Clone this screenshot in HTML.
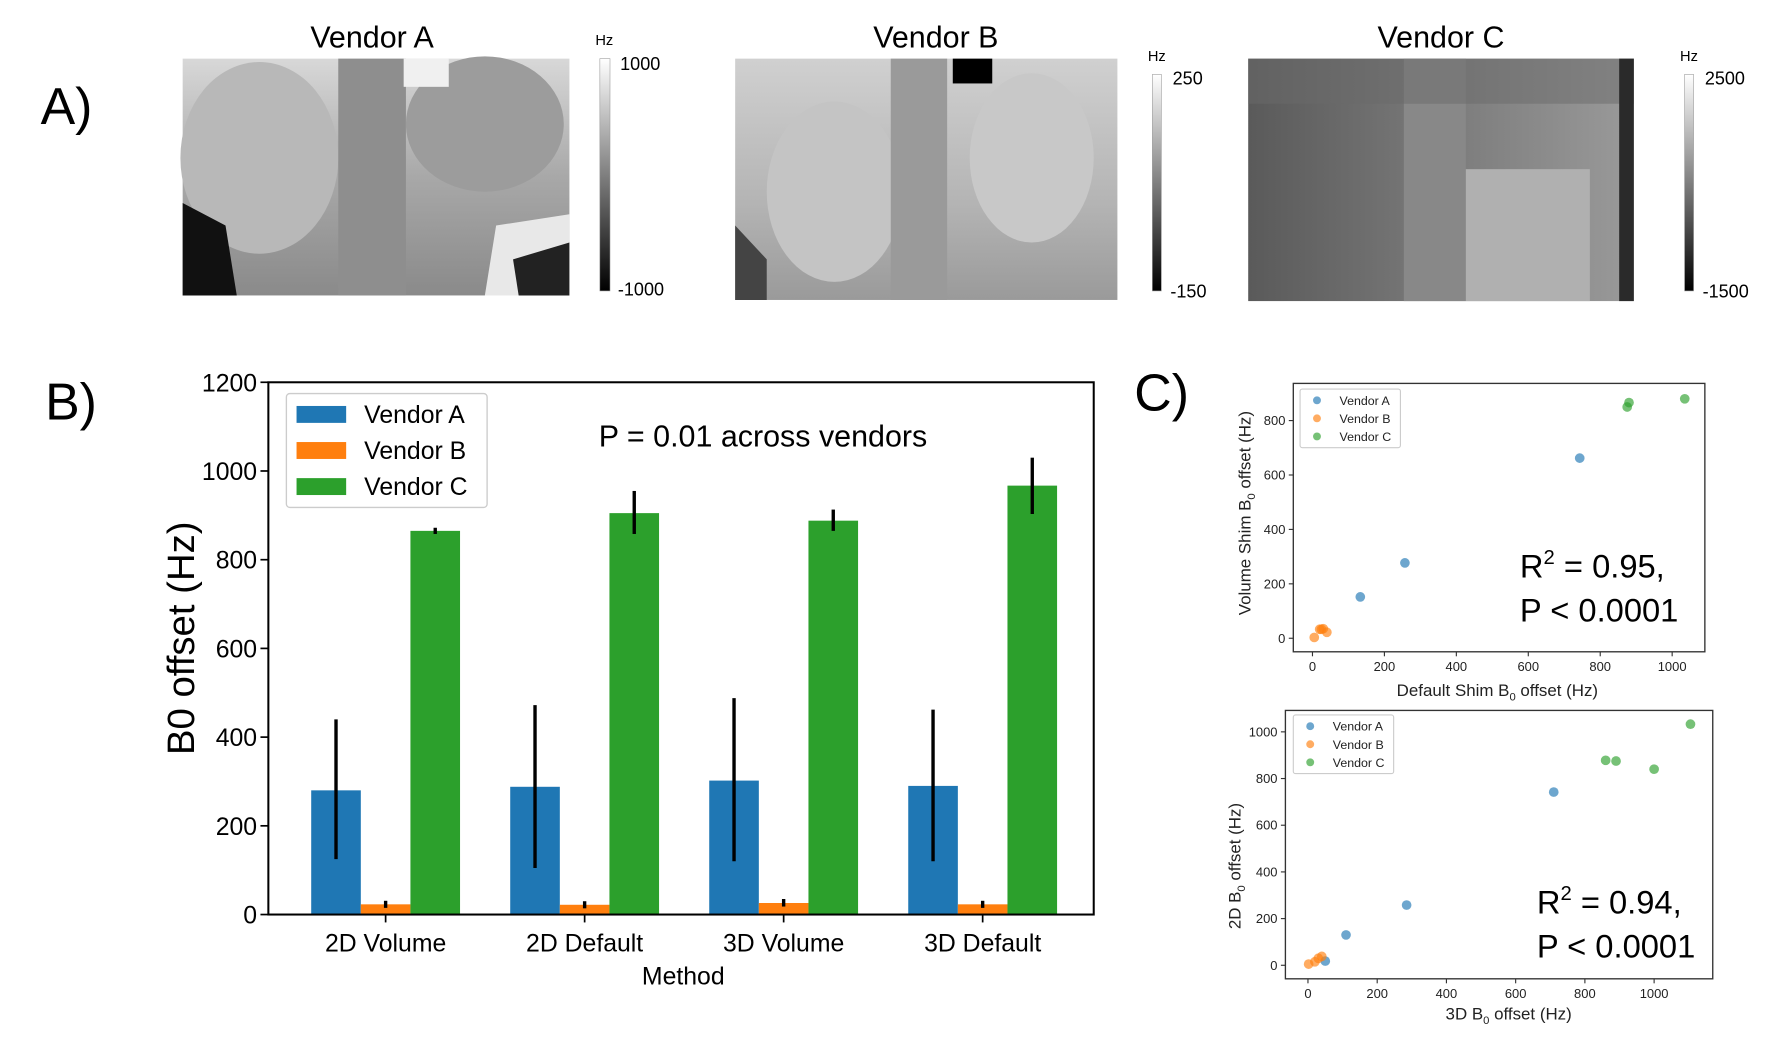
<!DOCTYPE html>
<html><head><meta charset="utf-8">
<style>
html,body{margin:0;padding:0;background:#fff;}
svg{display:block;font-family:"Liberation Sans","DejaVu Sans",sans-serif;}
</style></head>
<body>
<svg id="root" width="1768" height="1037" viewBox="0 0 1568 919.6" preserveAspectRatio="none" xmlns="http://www.w3.org/2000/svg">
<defs>
  <linearGradient id="cbar" x1="0" y1="0" x2="0" y2="1"><stop offset="0" stop-color="#fff"/><stop offset="1" stop-color="#000"/></linearGradient>
  <linearGradient id="imgA" x1="0" y1="0" x2="0" y2="1"><stop offset="0" stop-color="#d8d8d8"/><stop offset="0.5" stop-color="#a8a8a8"/><stop offset="1" stop-color="#8a8a8a"/></linearGradient>
  <linearGradient id="imgB" x1="0" y1="0" x2="0" y2="1"><stop offset="0" stop-color="#d0d0d0"/><stop offset="0.6" stop-color="#b4b4b4"/><stop offset="1" stop-color="#9a9a9a"/></linearGradient>
  <linearGradient id="imgC" x1="0" y1="0" x2="1" y2="0"><stop offset="0" stop-color="#5a5a5a"/><stop offset="0.5" stop-color="#7a7a7a"/><stop offset="1" stop-color="#9a9a9a"/></linearGradient>
</defs>

<!-- Panel A -->
<g>
  <text x="36" y="110" font-size="46">A)</text>
  <text x="330" y="42" font-size="27" text-anchor="middle">Vendor A</text>
  <g>
    <rect x="162" y="52" width="343" height="210" fill="url(#imgA)"/>
    <ellipse cx="230" cy="140" rx="70" ry="85" fill="#b8b8b8"/>
    <ellipse cx="430" cy="110" rx="70" ry="60" fill="#9c9c9c"/>
    <rect x="300" y="52" width="60" height="210" fill="#8e8e8e"/>
    <rect x="358" y="52" width="40" height="25" fill="#f0f0f0"/>
    <path d="M162 180 L200 200 L210 262 L162 262Z" fill="#111"/>
    <path d="M440 200 L505 190 L505 262 L430 262Z" fill="#e8e8e8"/>
    <path d="M455 230 L505 215 L505 262 L460 262Z" fill="#222"/>
  </g>
  <text x="528" y="40" font-size="13">Hz</text>
  <rect x="532" y="52" width="9" height="206" fill="url(#cbar)" stroke="#999" stroke-width="0.5"/>
  <text x="550" y="62" font-size="16">1000</text>
  <text x="548" y="262" font-size="16">-1000</text>

  <text x="830" y="42" font-size="27" text-anchor="middle">Vendor B</text>
  <g>
    <rect x="652" y="52" width="339" height="214" fill="url(#imgB)"/>
    <ellipse cx="740" cy="170" rx="60" ry="80" fill="#c4c4c4"/>
    <ellipse cx="915" cy="140" rx="55" ry="75" fill="#c8c8c8"/>
    <rect x="790" y="52" width="50" height="214" fill="#9a9a9a"/>
    <rect x="845" y="52" width="35" height="22" fill="#000"/>
    <path d="M652 200 L680 230 L680 266 L652 266Z" fill="#444"/>
  </g>
  <text x="1018" y="54" font-size="13">Hz</text>
  <rect x="1022" y="66" width="8" height="192" fill="url(#cbar)" stroke="#999" stroke-width="0.5"/>
  <text x="1040" y="75" font-size="16">250</text>
  <text x="1038" y="264" font-size="16">-150</text>

  <text x="1278" y="42" font-size="27" text-anchor="middle">Vendor C</text>
  <g>
    <rect x="1107" y="52" width="342" height="215" fill="url(#imgC)"/>
    <rect x="1245" y="52" width="55" height="215" fill="#888"/>
    <rect x="1300" y="150" width="110" height="117" fill="#b0b0b0"/>
    <rect x="1107" y="52" width="342" height="40" fill="#6a6a6a" opacity="0.5"/>
    <rect x="1436" y="52" width="13" height="215" fill="#2a2a2a"/>
  </g>
  <text x="1490" y="54" font-size="13">Hz</text>
  <rect x="1494" y="66" width="8" height="192" fill="url(#cbar)" stroke="#999" stroke-width="0.5"/>
  <text x="1512" y="75" font-size="16">2500</text>
  <text x="1510" y="264" font-size="16">-1500</text>
</g>

<!-- Panel B -->
<g id="panelB">
  <text x="40" y="372" font-size="46">B)</text>
</g>
<!-- Panel C -->
<g id="panelC">
  <text x="1006" y="364" font-size="46">C)</text>
</g>
</svg>
<script>
const NS = "http://www.w3.org/2000/svg";
const categories = ["2D Volume", "2D Default", "3D Volume", "3D Default"];
const seriesNames = ["Vendor A", "Vendor B", "Vendor C"];
const valuesA = [280, 288, 302, 290];
const valuesB = [23, 22, 26, 23];
const valuesC = [865, 905, 888, 967];
const errLowA = [125, 105, 120, 120];
const errHighA = [440, 472, 488, 462];
const errLowB = [15, 14, 18, 15];
const errHighB = [31, 30, 35, 31];
const errLowC = [858, 858, 865, 903];
const errHighC = [872, 955, 913, 1030];
const yTicksB = [0, 200, 400, 600, 800, 1000, 1200];

const sc1VendorAX = [133, 257, 743];
const sc1VendorAY = [152, 277, 662];
const sc1VendorBX = [5, 20, 30, 40, 25];
const sc1VendorBY = [3, 33, 35, 22, 33];
const sc1VendorCX = [875, 880, 1035];
const sc1VendorCY = [850, 866, 880];
const sc1XTicks = [0, 200, 400, 600, 800, 1000];
const sc1YTicks = [0, 200, 400, 600, 800];

const sc2VendorAX = [50, 110, 285, 710];
const sc2VendorAY = [18, 130, 258, 742];
const sc2VendorBX = [2, 20, 30, 40];
const sc2VendorBY = [5, 15, 30, 38];
const sc2VendorCX = [860, 890, 1000, 1105];
const sc2VendorCY = [878, 875, 840, 1033];
const sc2XTicks = [0, 200, 400, 600, 800, 1000];
const sc2YTicks = [0, 200, 400, 600, 800, 1000];

const colors = ["#1f77b4", "#ff7f0e", "#2ca02c"];

function mk(tag, attrs, parent, text) {
  const e = document.createElementNS(NS, tag);
  for (const k in attrs) e.setAttribute(k, attrs[k]);
  if (text !== undefined) e.textContent = text;
  parent.appendChild(e);
  return e;
}

// ---- Bar chart ----
(function () {
  const g = document.getElementById("panelB");
  const L = 238, R = 970, T = 339, B = 811;
  const y = v => B - (v / 1200) * (B - T);
  const groupW = 176.5, first = 342, bw = 44;
  const xc = i => first + i * groupW;
  let e;
  const vals = [valuesA, valuesB, valuesC];
  const lo = [errLowA, errLowB, errLowC];
  const hi = [errHighA, errHighB, errHighC];
  categories.forEach((c, i) => {
    for (let s = 0; s < 3; s++) {
      const x0 = xc(i) - bw * 1.5 + s * bw;
      e = mk("rect", {x: x0, y: y(vals[s][i]), width: bw, height: B - y(vals[s][i]), fill: colors[s]}, g);
      
      
      e = mk("line", {x1: x0 + bw / 2, x2: x0 + bw / 2, y1: y(lo[s][i]), y2: y(hi[s][i]), stroke: "#000", "stroke-width": 3}, g);
      
      
    }
    e = mk("line", {x1: xc(i), x2: xc(i), y1: B, y2: B + 7, stroke: "#000", "stroke-width": 1.5}, g);
    
    
    e = mk("text", {x: xc(i), y: B + 33, "font-size": 22, "text-anchor": "middle"}, g, c);
    
    
  });
  yTicksB.forEach(t => {
    e = mk("line", {x1: L - 7, x2: L, y1: y(t), y2: y(t), stroke: "#000", "stroke-width": 1.5}, g);
    
    
    e = mk("text", {x: L - 10, y: y(t) + 8, "font-size": 22, "text-anchor": "end"}, g, String(t));
    
    
  });
  e = mk("rect", {x: L, y: T, width: R - L, height: B - T, fill: "none", stroke: "#000", "stroke-width": 1.8}, g);
  
  
  e = mk("text", {x: 0, y: 0, "font-size": 34, "text-anchor": "middle", transform: "translate(172,566) rotate(-90)"}, g, "B0 offset (Hz)");
  
  
  e = mk("text", {x: 606, y: 873, "font-size": 22, "text-anchor": "middle"}, g, "Method");
  
  
  e = mk("text", {x: 531, y: 396, "font-size": 27}, g, "P = 0.01 across vendors");
  
  
  e = mk("rect", {x: 254, y: 349, width: 178, height: 101, rx: 3, fill: "#fff", stroke: "#ccc", "stroke-width": 1.2}, g);
  
  
  seriesNames.forEach((n, s) => {
    const yy = 367 + s * 32;
    e = mk("rect", {x: 263, y: yy - 7, width: 44, height: 15, fill: colors[s]}, g);
    
    
    e = mk("text", {x: 323, y: yy + 8, "font-size": 22}, g, n);
    
    
  });
})();

// ---- Scatter plots ----
function scatter(cfg) {
  const g = document.getElementById("panelC");
  const x = v => cfg.x0 + v * cfg.xs;
  const y = v => cfg.y0 - v * cfg.ys;
  let e;
  e = mk("rect", {x: cfg.L, y: cfg.T, width: cfg.R - cfg.L, height: cfg.B - cfg.T, fill: "none", stroke: "#333", "stroke-width": 1.2}, g);
  
  
  cfg.xt.forEach(t => {
    e = mk("line", {x1: x(t), x2: x(t), y1: cfg.B, y2: cfg.B + 4, stroke: "#333"}, g);
    
    
    e = mk("text", {x: x(t), y: cfg.B + 17, "font-size": 11.5, "text-anchor": "middle", fill: "#222"}, g, String(t));
    
    
  });
  cfg.yt.forEach(t => {
    e = mk("line", {x1: cfg.L - 4, x2: cfg.L, y1: y(t), y2: y(t), stroke: "#333"}, g);
    
    
    e = mk("text", {x: cfg.L - 7, y: y(t) + 4, "font-size": 11.5, "text-anchor": "end", fill: "#222"}, g, String(t));
    
    
  });
  cfg.series.forEach((s, k) => {
    s[0].forEach((vx, i) => {
      e = mk("circle", {cx: x(vx), cy: y(s[1][i]), r: 4.3, fill: colors[k], "fill-opacity": 0.65}, g);
      
      
    });
  });
  e = mk("rect", {x: cfg.lx, y: cfg.ly, width: 89, height: 52, rx: 2, fill: "#fff", stroke: "#ccc"}, g);
  
  
  seriesNames.forEach((n, k) => {
    const yy = cfg.ly + 10 + k * 16;
    e = mk("circle", {cx: cfg.lx + 15, cy: yy, r: 3.5, fill: colors[k], "fill-opacity": 0.65}, g);
    
    
    e = mk("text", {x: cfg.lx + 35, y: yy + 4, "font-size": 11, fill: "#222"}, g, n);
    
    
  });
  e = mk("text", {x: cfg.xlx, y: cfg.xly, "font-size": 15, "text-anchor": "middle", fill: "#222"}, g);
  e.innerHTML = cfg.xlabel;
  
  
  e = mk("text", {x: 0, y: 0, "font-size": 15, "text-anchor": "middle", fill: "#222", transform: "translate(" + cfg.ylx + "," + cfg.yly + ") rotate(-90)"}, g);
  e.innerHTML = cfg.ylabel;
  
  
  e = mk("text", {x: cfg.rx, y: cfg.ry, "font-size": 29}, g);
  e.innerHTML = 'R<tspan font-size="18" dy="-12">2</tspan><tspan dy="12"> = ' + cfg.r2 + ',</tspan>';
  
  
  e = mk("text", {x: cfg.rx, y: cfg.ry + 39, "font-size": 29}, g, "P < 0.0001");
  
  
}
scatter({name: "scatter-volume-vs-default", L: 1147, R: 1512, T: 340, B: 578, x0: 1164, xs: 0.319, y0: 566, ys: 0.2413,
  xt: sc1XTicks, yt: sc1YTicks,
  series: [[sc1VendorAX, sc1VendorAY], [sc1VendorBX, sc1VendorBY], [sc1VendorCX, sc1VendorCY]],
  lx: 1153, ly: 345, xlx: 1328, xly: 617, ylx: 1109, yly: 455,
  xlabel: 'Default Shim B<tspan font-size="10" dy="4">0</tspan><tspan dy="-4"> offset (Hz)</tspan>',
  ylabel: 'Volume Shim B<tspan font-size="10" dy="4">0</tspan><tspan dy="-4"> offset (Hz)</tspan>',
  rx: 1348, ry: 512, r2: "0.95"});
scatter({name: "scatter-2d-vs-3d", L: 1140, R: 1519, T: 630, B: 868, x0: 1160, xs: 0.307, y0: 856, ys: 0.207,
  xt: sc2XTicks, yt: sc2YTicks,
  series: [[sc2VendorAX, sc2VendorAY], [sc2VendorBX, sc2VendorBY], [sc2VendorCX, sc2VendorCY]],
  lx: 1147, ly: 634, xlx: 1338, xly: 904, ylx: 1100, yly: 768,
  xlabel: '3D B<tspan font-size="10" dy="4">0</tspan><tspan dy="-4"> offset (Hz)</tspan>',
  ylabel: '2D B<tspan font-size="10" dy="4">0</tspan><tspan dy="-4"> offset (Hz)</tspan>',
  rx: 1363, ry: 810, r2: "0.94"});
</script>
</body></html>
